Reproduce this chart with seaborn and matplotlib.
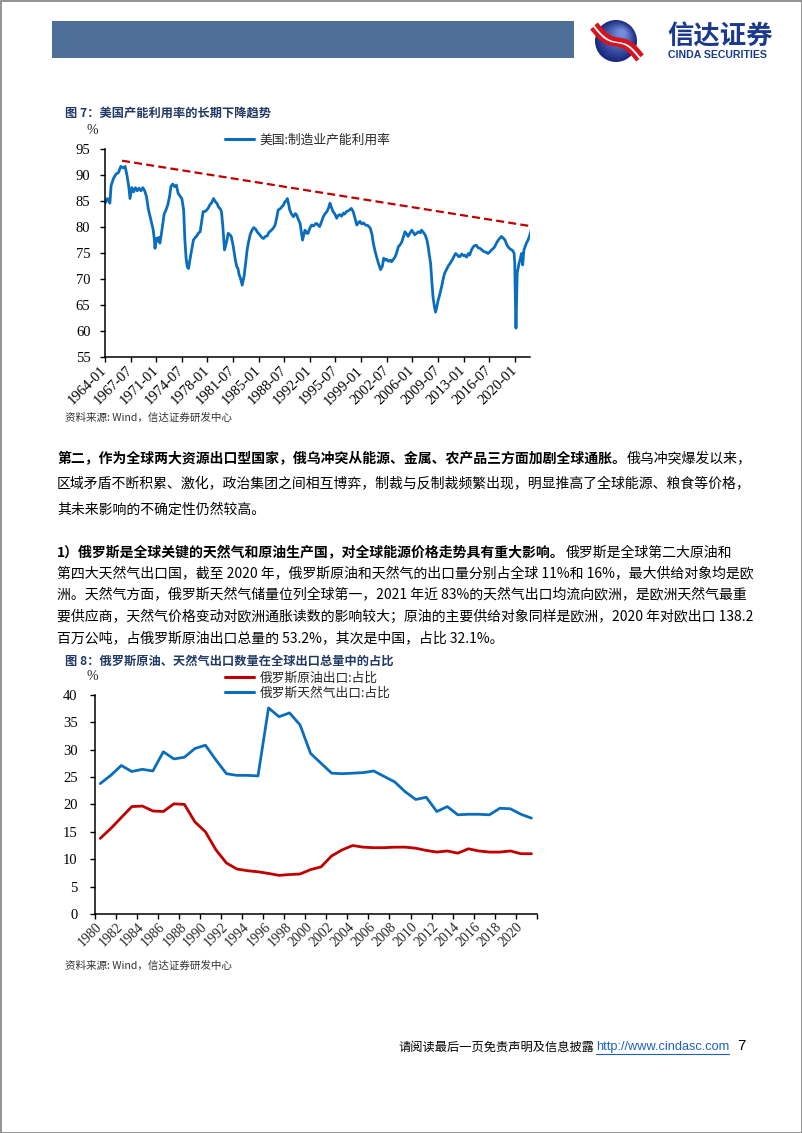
import matplotlib
matplotlib.use("Agg")
import matplotlib.pyplot as plt
import seaborn as sns
import numpy as np
import pandas as pd
from matplotlib.patches import Rectangle, Circle
from matplotlib.lines import Line2D

W, H = 802, 1133
sns.set_style("ticks")
plt.rcParams['font.family'] = ['Noto Sans CJK SC', 'DejaVu Sans']
plt.rcParams['axes.unicode_minus'] = False

# ---------------- data: chart 1 (US manufacturing capacity utilisation, %) ----------------
cu_tick_labels = ['1964-01', '1967-07', '1971-01', '1974-07', '1978-01', '1981-07',
                  '1985-01', '1988-07', '1992-01', '1995-07', '1999-01', '2002-07',
                  '2006-01', '2009-07', '2013-01', '2016-07', '2020-01']
# months elapsed since 1964-01
cu_months = [0, 4, 8, 10, 14, 18, 22, 26, 30, 33,
             36, 39, 41, 44, 47, 50, 53, 56, 59, 62,
             65, 68, 71, 74, 77, 79, 81, 82, 84, 86,
             88, 90, 92, 94, 97, 100, 103, 106, 108, 111,
             114, 117, 120, 123, 126, 129, 131, 133, 135, 137,
             139, 142, 145, 148, 150, 153, 156, 159, 161, 164,
             167, 170, 172, 175, 178, 181, 184, 186, 189, 191,
             193, 196, 198, 200, 202, 205, 207, 210, 212, 214,
             216, 218, 220, 222, 225,
             228, 230, 233, 235, 238, 241, 244, 247, 250, 254,
             257, 260, 263, 266, 269, 273, 276, 279, 282, 284,
             287, 290, 293, 295, 297, 299, 301, 303, 306, 309,
             312, 314, 317, 320, 322, 324, 326, 328, 331, 333,
             336, 339, 342, 345, 347, 350, 352, 355, 358, 361,
             364, 367, 369, 371, 374, 377, 380, 382, 385, 388,
             391, 393, 396, 400, 404, 407, 410, 413, 416, 418,
             421, 424, 427, 431, 435, 438, 440, 443, 446, 449,
             452,
             455, 457, 460, 462, 465, 468, 470, 473, 476, 479,
             481, 484, 487, 490, 492, 495, 497, 500, 503, 506,
             508, 511, 514, 517, 519, 522, 525, 528, 530, 532,
             534, 536, 538, 540, 542, 544, 546, 549, 552, 555,
             557, 560, 563, 566, 569, 571, 573, 575, 578, 580,
             582, 585, 588, 590, 593, 596, 598, 601, 604, 606,
             609, 612, 615, 618, 621, 623, 626, 628, 631, 634,
             637, 639, 642, 645, 648, 650, 653, 656, 659, 661,
             664, 667, 669, 671, 672, 673, 674, 675, 676, 678,
             679, 681, 683, 685, 687, 689, 691, 693, 696, 699]
cu_values = [84.6, 85.5, 84.6, 88.0, 89.4, 90.2, 90.5, 91.7, 91.4, 91.7,
             90.0, 87.8, 85.5, 87.6, 86.8, 87.6, 87.0, 87.5, 87.0, 87.6,
             87.0, 85.9, 83.5, 82.0, 80.5, 79.5, 77.5, 75.9, 77.8, 77.3,
             78.0, 76.9, 78.3, 80.0, 82.5, 83.3, 84.3, 86.0, 87.8, 88.3,
             87.8, 88.1, 86.5, 86.0, 85.5, 83.3, 77.5, 74.0, 72.3, 72.0,
             73.5, 75.5, 77.5, 78.0, 78.2, 78.8, 79.1, 81.5, 83.0, 83.0,
             83.3, 83.8, 84.3, 84.7, 85.5, 84.9, 84.5, 83.9, 83.5, 83.0,
             80.5, 75.6, 76.5, 77.5, 78.8, 78.5, 78.2, 76.5, 75.0, 73.5,
             72.4, 72.0, 70.8, 70.2, 68.8,
             70.5, 72.4, 75.5, 76.9, 78.5, 79.4, 79.9, 79.6, 79.0, 78.5,
             78.0, 77.8, 78.2, 78.3, 79.0, 79.4, 79.8, 80.4, 82.0, 83.3,
             83.5, 83.9, 84.3, 84.9, 85.0, 85.5, 84.5, 83.3, 82.5, 82.0,
             82.6, 82.4, 81.5, 80.7, 79.0, 77.5, 78.5, 79.4, 78.8, 78.8,
             79.8, 80.4, 80.2, 80.6, 80.7, 80.3, 80.1, 81.0, 82.0, 82.6,
             83.0, 83.8, 84.6, 83.9, 83.0, 82.5, 81.7, 82.2, 82.4, 82.1,
             82.7, 82.5, 83.0, 83.2, 83.6, 83.0, 81.7, 80.4, 80.9, 81.1,
             80.6, 80.8, 80.4, 80.3, 79.8, 78.5, 76.9, 75.3, 74.0, 72.8,
             71.8,
             72.5, 74.0, 73.6, 73.8, 73.4, 73.6, 73.3, 73.8, 74.3, 75.3,
             76.2, 76.6, 77.2, 78.3, 79.1, 78.6, 78.2, 78.8, 79.4, 78.9,
             78.5, 78.8, 79.1, 78.9, 79.4, 79.0, 78.5, 77.5, 76.2, 74.5,
             73.0, 69.5, 66.5, 64.8, 63.6, 64.5, 65.7, 67.0, 68.5, 70.2,
             71.1, 71.8, 72.5, 73.0, 73.6, 74.0, 74.5, 74.9, 74.6, 74.3,
             74.3, 74.8, 74.5, 74.6, 74.2, 74.9, 74.6, 75.6, 76.2, 76.4,
             76.5, 76.0, 75.9, 75.6, 75.3, 75.2, 75.1, 74.9, 75.2, 75.6,
             75.9, 76.2, 76.9, 77.5, 77.9, 78.2, 77.9, 77.5, 76.6, 76.2,
             75.8, 75.6, 75.4, 74.9, 73.0, 66.0, 60.5, 65.5, 71.1, 72.3,
             73.0, 73.8, 74.9, 72.7, 75.6, 76.2, 76.9, 77.3, 78.2, 79.4]
trend_months = [28, 697]
trend_values = [92.8, 80.2]
cu_yticks = [55, 60, 65, 70, 75, 80, 85, 90, 95]
assert len(cu_months) == len(cu_values)

# ---------------- data: chart 2 (Russia share of global exports, %) ----------------
ru_years = [str(y) for y in range(1980, 2022)]
oil_share = [13.8, 15.6, 17.6, 19.6, 19.7, 18.8, 18.7, 20.1, 20.0, 16.8,
             15.0, 11.7, 9.3, 8.2, 7.9, 7.7, 7.4, 7.05, 7.2, 7.3,
             8.1, 8.6, 10.6, 11.7, 12.5, 12.2, 12.1, 12.1, 12.2, 12.2,
             12.0, 11.6, 11.3, 11.5, 11.1, 11.9, 11.5, 11.3, 11.3, 11.5,
             11.0, 11.0]
gas_share = [23.8, 25.3, 27.1, 26.0, 26.4, 26.1, 29.6, 28.3, 28.6, 30.2,
             30.8, 28.1, 25.6, 25.3, 25.3, 25.2, 37.6, 36.0, 36.7, 34.5,
             29.3, 27.5, 25.7, 25.6, 25.7, 25.8, 26.1, 25.1, 24.1, 22.3,
             20.9, 21.3, 18.7, 19.6, 18.1, 18.2, 18.2, 18.1, 19.3, 19.2,
             18.2, 17.5]
ru_yticks = [0, 5, 10, 15, 20, 25, 30, 35, 40]

# ---------------- texts ----------------
title1 = '图 7：美国产能利用率的长期下降趋势'
title2 = '图 8：俄罗斯原油、天然气出口数量在全球出口总量中的占比'
source = '资料来源: Wind，信达证券研发中心'
legend1 = '美国:制造业产能利用率'
legend_oil = '俄罗斯原油出口:占比'
legend_gas = '俄罗斯天然气出口:占比'
para1 = [('第二，作为全球两大资源出口型国家，俄乌冲突从能源、金属、农产品三方面加剧全球通胀。', '俄乌冲突爆发以来，'),
         ('', '区域矛盾不断积累、激化，政治集团之间相互博弈，制裁与反制裁频繁出现，明显推高了全球能源、粮食等价格，'),
         ('', '其未来影响的不确定性仍然较高。')]
para2 = [('1）俄罗斯是全球关键的天然气和原油生产国，对全球能源价格走势具有重大影响。', '俄罗斯是全球第二大原油和'),
         ('', '第四大天然气出口国，截至 2020 年，俄罗斯原油和天然气的出口量分别占全球 11%和 16%，最大供给对象均是欧'),
         ('', '洲。天然气方面，俄罗斯天然气储量位列全球第一，2021 年近 83%的天然气出口均流向欧洲，是欧洲天然气最重'),
         ('', '要供应商，天然气价格变动对欧洲通胀读数的影响较大；原油的主要供给对象同样是欧洲，2020 年对欧出口 138.2'),
         ('', '百万公吨，占俄罗斯原油出口总量的 53.2%，其次是中国，占比 32.1%。')]

BLUE = '#0A6EBD'
RED = '#C00000'
NAVY = '#1F3864'
SERIF = 'Liberation Serif'

fig = plt.figure(figsize=(W / 100, H / 100), dpi=100)
fig.patch.set_facecolor('white')

bg = fig.add_axes([0, 0, 1, 1])
bg.set_xlim(0, W)
bg.set_ylim(H, 0)
bg.axis('off')

# page border
bg.add_patch(Rectangle((0.5, 0.5), W - 1, H - 1, fill=False, edgecolor='#808080', lw=1.2))
# header bar
bg.add_patch(Rectangle((52, 20.5), 522, 37.5, facecolor='#4E7098', edgecolor='none'))
# logo
for i, r in enumerate(np.linspace(21, 4, 12)):
    c = np.array([0.10, 0.16, 0.50]) + (np.array([0.45, 0.55, 0.85]) - np.array([0.10, 0.16, 0.50])) * i / 11
    bg.add_patch(Circle((616 + (21 - r) * 0.35, 41 - (21 - r) * 0.45), r, facecolor=c, edgecolor='none'))
tt = np.linspace(0, 1, 50)
for off, col, lw in [(-3.5, '#D7141E', 3.2), (0, 'white', 1.6), (3.5, '#D7141E', 3.2)]:
    xs = 594 + 46 * tt + off * 0.6
    ys = 26 + 32 * tt + 4 * np.sin(tt * np.pi * 2) - off * 0.6
    bg.plot(xs, ys, color=col, lw=lw, solid_capstyle='butt')
bg.text(667, 37, '信达证券', fontsize=19, fontweight='bold', color='#1B3A8C', ha='left', va='center')
bg.text(668, 54.5, 'CINDA SECURITIES', fontsize=7.6, fontweight='bold', color='#1B3A8C',
        ha='left', va='center', family='Liberation Sans')

# ---------------- chart 1 ----------------
def axrect(x0, y0, x1, y1):
    return [x0 / W, 1 - y1 / H, (x1 - x0) / W, (y1 - y0) / H]

ax1 = fig.add_axes(axrect(105, 149.3, 530, 356.7))
df1 = pd.DataFrame({'month': cu_months, 'value': cu_values})
sns.lineplot(data=df1, x='month', y='value', ax=ax1, color=BLUE, lw=2.0,
             estimator=None, label=legend1)
ax1.plot(trend_months, trend_values, color=RED, lw=1.6, ls=(0, (3.6, 1.9)))
ax1.set_xlim(0, 697)
ax1.set_ylim(55, 95)
tick_pos1 = [(int(s[:4]) - 1964) * 12 + int(s[5:]) - 1 for s in cu_tick_labels]
ax1.set_xticks(tick_pos1)
ax1.set_xticklabels(cu_tick_labels, rotation=45, ha='right', va='center', rotation_mode='anchor')
ax1.set_yticks(cu_yticks)
ax1.set_xlabel('')
ax1.set_ylabel('')

ax2 = fig.add_axes(axrect(95, 694.8, 536.7, 914))
xi = np.arange(len(ru_years))
df2 = pd.DataFrame({'i': np.concatenate([xi, xi]),
                    'v': oil_share + gas_share,
                    's': [legend_oil] * len(xi) + [legend_gas] * len(xi)})
sns.lineplot(data=df2, x='i', y='v', hue='s', palette=[RED, BLUE], ax=ax2, lw=2.0, estimator=None)
ax2.set_xlim(-0.5, len(ru_years) - 0.5)
ax2.set_ylim(0, 40)
ax2.set_xticks(np.arange(-0.5, len(ru_years), 2))
ax2.set_xticklabels([])
ax2.set_xticks(xi[::2], minor=True)
ax2.set_xticklabels(ru_years[::2], minor=True, rotation=45, ha='right', va='center', rotation_mode='anchor')
ax2.tick_params(axis='x', which='minor', length=0, pad=8)
ax2.set_yticks(ru_yticks)
ax2.set_xlabel('')
ax2.set_ylabel('')

for ax in (ax1, ax2):
    sns.despine(ax=ax)
    for sp in ('left', 'bottom'):
        ax.spines[sp].set_color('black')
        ax.spines[sp].set_linewidth(1.1)
    ax.tick_params(axis='both', which='major', direction='out', length=3.5, width=1.0, color='black',
                   labelsize=10.5, labelcolor='black')
    for lab in ax.get_xticklabels(which='both') + ax.get_yticklabels():
        lab.set_fontfamily(SERIF)
    ax.set_facecolor('none')
ax1.tick_params(axis='y', pad=7)
ax1.tick_params(axis='x', pad=5)
ax2.tick_params(axis='y', pad=9)

leg_kw = dict(frameon=False, borderpad=0, borderaxespad=0, handlelength=2.3, handletextpad=0.4,
              bbox_transform=fig.transFigure, prop={'family': 'Noto Sans CJK SC', 'size': 9.2})
h1, l1 = ax1.get_legend_handles_labels()
ax1.legend(h1, l1, loc='center left', bbox_to_anchor=(225 / W, 1 - 140 / H), **leg_kw)
for line in ax1.get_legend().get_lines():
    line.set_linewidth(2.2)
h2, l2 = ax2.get_legend_handles_labels()
ax2.legend(h2, l2, loc='center left', bbox_to_anchor=(225 / W, 1 - 685.5 / H), labelspacing=0.15, **leg_kw)
for line in ax2.get_legend().get_lines():
    line.set_linewidth(2.2)

bg.text(92, 131, '%', fontsize=10, family=SERIF, ha='center', va='center')
bg.text(92, 677, '%', fontsize=10, family=SERIF, ha='center', va='center')

# titles & sources
bg.text(65, 113, title1, fontsize=8.8, fontweight='bold', color=NAVY, ha='left', va='center')
bg.text(65, 661, title2, fontsize=8.8, fontweight='bold', color=NAVY, ha='left', va='center')
bg.text(65, 418, source, fontsize=7.6, style='italic', color='#333333', ha='left', va='center')
bg.text(65, 966, source, fontsize=7.6, style='italic', color='#333333', ha='left', va='center')

# body text
renderer = fig.canvas.get_renderer()
def para(lines, y0, dy, size=10):
    for k, (b, n) in enumerate(lines):
        y = y0 + k * dy
        x = 57
        if b:
            t = bg.text(x, y, b, fontsize=size, fontweight='bold', color='black', ha='left', va='center')
            bb = t.get_window_extent(renderer)
            x = bb.x1 + 1
        if n:
            bg.text(x, y, n, fontsize=size, color='black', ha='left', va='center')

para(para1, 458, 26)
para(para2, 553, 21.2)

# footer
bg.text(398, 1047, '请阅读最后一页免责声明及信息披露', fontsize=8.8, color='black', ha='left', va='center')
u = bg.text(596, 1047, 'http://www.cindasc.com', fontsize=9.2, color='#1F5FBF', family='Liberation Sans',
            ha='left', va='center')
ub = u.get_window_extent(renderer)
bg.add_line(Line2D([ub.x0, ub.x1], [1054, 1054], color='#1F5FBF', lw=0.8))
bg.text(737, 1046, '7', fontsize=11, color='black', family='Liberation Sans', ha='left', va='center')

fig.savefig('out.png', dpi=100, facecolor='white')
